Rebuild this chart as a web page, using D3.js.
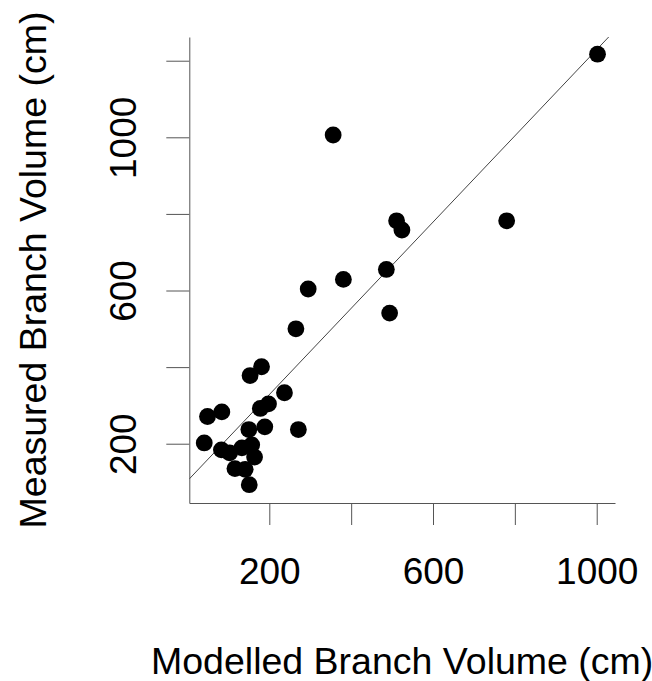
<!DOCTYPE html>
<html>
<head>
<meta charset="utf-8">
<script src="https://cdn.jsdelivr.net/npm/d3@7"></script>
<style>
  body { margin: 0; background: #fff; }
  svg text { font-family: "Liberation Sans", Arial, sans-serif; fill: #000; }
</style>
</head>
<body>
<div id="chart"></div>
<script>
// modelled (x) and measured (y) branch volume
const modelled = [181, 153, 237, 198, 178, 84, 49, 189, 150, 271,
  41, 83, 103, 133, 157, 164, 116, 141, 151, 295,
  381, 486, 494, 265, 356, 511, 524, 780, 1002];
const measured = [401, 378, 333, 304, 292, 283, 271, 244, 237, 237,
  202, 184, 176, 189, 197, 165, 135, 133, 93, 604,
  629, 655, 541, 500, 1006, 782, 758, 782, 1217];

const xTicks = [200, 400, 600, 800, 1000];
const yTicks = [200, 400, 600, 800, 1000, 1200];
const tickLabels = [200, 600, 1000];

// fitted line y = a + b * x
const fitIntercept = 103;
const fitSlope = 1.126;

const width = 652;
const height = 681;
const plot = { left: 189.3, right: 615, top: 37, bottom: 503 };

const svg = d3.select('#chart')
  .append('svg')
  .attr('width', width)
  .attr('height', height);

const x = d3.scaleLinear()
  .domain([4.5, 1044.7])
  .range([plot.left, plot.right]);

const y = d3.scaleLinear()
  .domain([45.2, 1261.9])
  .range([plot.bottom, plot.top]);

const fmt = (d) => (tickLabels.includes(d) ? d : '');

// x axis
const gx = svg.append('g')
  .attr('transform', `translate(0,${plot.bottom})`)
  .call(d3.axisBottom(x).tickValues(xTicks).tickSize(22).tickSizeOuter(0).tickFormat(fmt));
gx.select('.domain').attr('stroke', '#555');
gx.selectAll('.tick line').attr('stroke', '#555');
gx.selectAll('.tick text')
  .attr('y', 81)
  .attr('dy', 0)
  .style('font-size', '37px');

// y axis
const gy = svg.append('g')
  .attr('transform', `translate(${plot.left},0)`)
  .call(d3.axisLeft(y).tickValues(yTicks).tickSize(23).tickSizeOuter(0).tickFormat(fmt));
gy.select('.domain').attr('stroke', '#555');
gy.selectAll('.tick line').attr('stroke', '#555');
gy.selectAll('.tick text')
  .attr('x', 0)
  .attr('dy', 0)
  .attr('transform', 'translate(-53,0) rotate(-90)')
  .style('text-anchor', 'middle')
  .style('font-size', '37px');

// clip for the fitted line
svg.append('clipPath')
  .attr('id', 'plotClip')
  .append('rect')
  .attr('x', plot.left)
  .attr('y', plot.top)
  .attr('width', plot.right - plot.left)
  .attr('height', plot.bottom - plot.top);

const [x0, x1] = x.domain();
svg.append('line')
  .attr('clip-path', 'url(#plotClip)')
  .attr('x1', x(x0))
  .attr('x2', x(x1))
  .attr('y1', y(fitIntercept + fitSlope * x0))
  .attr('y2', y(fitIntercept + fitSlope * x1))
  .attr('stroke', '#444')
  .attr('stroke-width', 1);

// points
svg.selectAll('circle.pt')
  .data(modelled.map((d, i) => ({ x: d, y: measured[i] })))
  .enter()
  .append('circle')
  .attr('class', 'pt')
  .attr('cx', (d) => x(d.x))
  .attr('cy', (d) => y(d.y))
  .attr('r', 8.4)
  .attr('fill', '#000');

// axis titles
svg.append('text')
  .attr('x', (plot.left + plot.right) / 2)
  .attr('y', 674)
  .attr('text-anchor', 'middle')
  .style('font-size', '37.5px')
  .text('Modelled Branch Volume (cm)');

svg.append('text')
  .attr('transform', `translate(46,${(plot.top + plot.bottom) / 2}) rotate(-90)`)
  .attr('text-anchor', 'middle')
  .style('font-size', '37.5px')
  .text('Measured Branch Volume (cm)');
</script>
</body>
</html>
